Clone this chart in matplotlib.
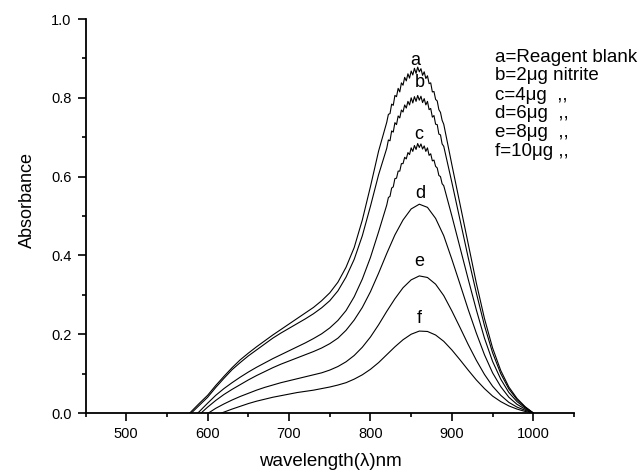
import numpy as np
import matplotlib
matplotlib.use('Agg')
import matplotlib.pyplot as plt
from matplotlib.ticker import MultipleLocator, FormatStrFormatter

plt.rcParams['font.family'] = ['Liberation Sans', 'DejaVu Sans']

# absorbance spectra: first point is where the trace leaves zero,
# then values every 10 nm up to 1000 nm
wl_a = [578] + list(range(590, 1001, 10))
abs_a = [0, 0.025, 0.045, 0.07, 0.093, 0.115, 0.135, 0.152, 0.168, 0.183, 0.198,
         0.212, 0.226, 0.24, 0.254, 0.268, 0.285, 0.305, 0.332, 0.37, 0.42,
         0.49, 0.575, 0.665, 0.74, 0.80, 0.84, 0.862, 0.87, 0.85, 0.80,
         0.73, 0.63, 0.53, 0.43, 0.33, 0.24, 0.165, 0.108, 0.066, 0.037,
         0.016, 0]

wl_b = [580] + list(range(590, 1001, 10))
abs_b = [0, 0.02, 0.04, 0.065, 0.088, 0.11, 0.128, 0.145, 0.16, 0.175, 0.19,
         0.203, 0.215, 0.227, 0.239, 0.252, 0.267, 0.285, 0.31, 0.345, 0.39,
         0.45, 0.525, 0.605, 0.675, 0.73, 0.77, 0.793, 0.80, 0.785, 0.74,
         0.675, 0.585, 0.49, 0.395, 0.305, 0.222, 0.153, 0.1, 0.061, 0.034,
         0.015, 0]

wl_c = [588] + list(range(600, 1001, 10))
abs_c = [0, 0.025, 0.045, 0.062, 0.077, 0.091, 0.104, 0.116, 0.127, 0.138,
         0.148, 0.158, 0.168, 0.178, 0.189, 0.201, 0.216, 0.235, 0.26, 0.295,
         0.34, 0.395, 0.46, 0.53, 0.59, 0.638, 0.668, 0.68, 0.668, 0.63,
         0.575, 0.5, 0.42, 0.34, 0.262, 0.19, 0.131, 0.086, 0.052, 0.029,
         0.013, 0]

wl_d = [592] + list(range(600, 1001, 10))
abs_d = [0, 0.015, 0.032, 0.047, 0.06, 0.072, 0.084, 0.095, 0.105, 0.115,
         0.124, 0.132, 0.14, 0.148, 0.156, 0.165, 0.176, 0.19, 0.21, 0.236,
         0.268, 0.308, 0.355, 0.405, 0.452, 0.49, 0.518, 0.53, 0.522, 0.494,
         0.45, 0.39, 0.327, 0.263, 0.203, 0.148, 0.102, 0.067, 0.04, 0.022,
         0.01, 0]

wl_e = [601] + list(range(610, 1001, 10))
abs_e = [0, 0.012, 0.023, 0.033, 0.042, 0.05, 0.058, 0.065, 0.071,
         0.077, 0.082, 0.087, 0.092, 0.097, 0.102, 0.109, 0.118, 0.13, 0.146,
         0.167, 0.193, 0.224, 0.258, 0.29, 0.318, 0.338, 0.348, 0.344, 0.327,
         0.298, 0.259, 0.217, 0.174, 0.134, 0.098, 0.068, 0.045, 0.027, 0.015,
         0.007, 0]

wl_f = [617] + list(range(630, 1001, 10))
abs_f = [0, 0.01, 0.017, 0.024, 0.03, 0.035, 0.04,
         0.044, 0.048, 0.052, 0.055, 0.058, 0.062, 0.066, 0.071, 0.077, 0.086,
         0.097, 0.111, 0.128, 0.148, 0.168, 0.186, 0.2, 0.208, 0.207, 0.198,
         0.182, 0.16, 0.135, 0.109, 0.084, 0.062, 0.043, 0.029, 0.018, 0.01,
         0.004, 0]

# the top three traces are noisy around the maximum: finer readings, every 2 nm
wl_peak = list(range(820, 891, 2))
peak_a = [0.738, 0.758, 0.760, 0.784, 0.781, 0.806, 0.803, 0.824, 0.815, 0.838,
          0.832, 0.852, 0.843, 0.861, 0.850, 0.868, 0.858, 0.875, 0.862, 0.878,
          0.866, 0.874, 0.857, 0.866, 0.849, 0.856, 0.836, 0.838, 0.815, 0.816,
          0.796, 0.792, 0.770, 0.763, 0.743, 0.733]
peak_b = [0.672, 0.693, 0.691, 0.716, 0.713, 0.737, 0.732, 0.754, 0.749, 0.769,
          0.764, 0.782, 0.774, 0.791, 0.782, 0.800, 0.787, 0.803, 0.791, 0.806,
          0.794, 0.804, 0.788, 0.798, 0.782, 0.791, 0.770, 0.773, 0.751, 0.755,
          0.733, 0.732, 0.708, 0.706, 0.683, 0.677]
peak_c = [0.528, 0.547, 0.550, 0.571, 0.574, 0.595, 0.596, 0.614, 0.614, 0.633,
          0.633, 0.649, 0.645, 0.661, 0.656, 0.673, 0.664, 0.679, 0.669, 0.684,
          0.674, 0.683, 0.670, 0.678, 0.664, 0.673, 0.654, 0.658, 0.640, 0.642,
          0.626, 0.622, 0.603, 0.600, 0.582, 0.577]

curve_tags = ['a', 'b', 'c', 'd', 'e', 'f']
tag_x = [855, 860, 859, 861, 860, 860]
tag_y = [0.896, 0.839, 0.706, 0.556, 0.384, 0.240]

key_lines = ['a=Reagent blank', 'b=2\u03bcg nitrite', 'c=4\u03bcg  ,,', 'd=6\u03bcg  ,,',
             'e=8\u03bcg  ,,', 'f=10\u03bcg ,,']


def with_peak(wl, ab, wl_pk, ab_pk):
    # replace the coarse readings inside the peak window by the fine ones
    pts = [(w, v) for w, v in zip(wl, ab) if w < wl_pk[0] or w > wl_pk[-1]]
    pts += list(zip(wl_pk, ab_pk))
    pts.sort()
    return [p[0] for p in pts], [p[1] for p in pts]


traces = [with_peak(wl_a, abs_a, wl_peak, peak_a),
          with_peak(wl_b, abs_b, wl_peak, peak_b),
          with_peak(wl_c, abs_c, wl_peak, peak_c),
          (wl_d, abs_d), (wl_e, abs_e), (wl_f, abs_f)]

fig = plt.figure(figsize=(6.43, 4.71), dpi=100)
ax = fig.add_axes([0.133, 0.1231, 0.7597, 0.8365])

for wl, ab in traces:
    ax.plot(wl, ab, color='black', lw=0.8)

for t, x, y in zip(curve_tags, tag_x, tag_y):
    ax.text(x, y, t, ha='center', va='center', fontsize=13)

ax.set_xlim(450, 1050)
ax.set_ylim(0, 1.0)
ax.set_xticks([500, 600, 700, 800, 900, 1000])
ax.xaxis.set_minor_locator(MultipleLocator(50))
ax.yaxis.set_major_locator(MultipleLocator(0.2))
ax.yaxis.set_minor_locator(MultipleLocator(0.1))
ax.yaxis.set_major_formatter(FormatStrFormatter('%.1f'))

ax.spines['top'].set_visible(False)
ax.spines['right'].set_visible(False)
for s in ['left', 'bottom']:
    ax.spines[s].set_linewidth(1.3)
ax.tick_params(which='major', direction='out', length=6, width=1.2, labelsize=10.5, pad=4)
ax.tick_params(which='minor', direction='out', length=3, width=1.2)

fig.text(330 / 643, 1 - 461 / 471, 'wavelength(\u03bb)nm', ha='center', va='center', fontsize=13.5)
fig.text(27 / 643, 1 - 200 / 471, 'Absorbance', ha='center', va='center', rotation=90, fontsize=13)

key_y = [57, 76, 95, 114, 133, 152]
for line, yp in zip(key_lines, key_y):
    fig.text(495 / 643, 1 - yp / 471, line, ha='left', va='center', fontsize=13.5)

fig.savefig('out.png', dpi=100)
